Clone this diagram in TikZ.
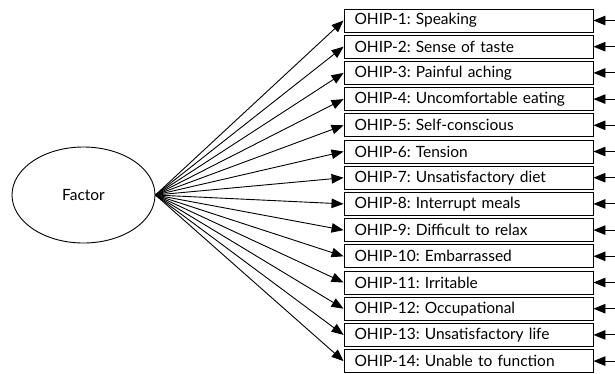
\documentclass[tikz,border=0pt]{standalone}
\usepackage{fontspec}
\setmainfont{Lato}
\frenchspacing
\usetikzlibrary{shapes.geometric, arrows.meta}

\tikzset{
  item/.style={draw, line width=0.9pt, minimum width=249pt, minimum height=23pt,
    inner sep=0pt, text width=228pt, align=left, font=\fontsize{15.5}{17}\selectfont},
  latent/.style={draw, ellipse, line width=0.9pt, minimum width=143pt,
    minimum height=96pt, inner sep=0pt, font=\fontsize{15.5}{17}\selectfont},
  load/.style={-{Triangle[length=12pt, width=9.5pt]}, line width=0.9pt},
}

\begin{document}
\begin{tikzpicture}[x=1pt, y=1pt]
  \useasboundingbox (0,0) rectangle (615,-373);

  % Fator latente
  \node[latent] (factor) at (83.5,-195) {Factor};

  % Itens OHIP e setas
  \foreach \i/\txt in {1/Speaking, 2/Sense of taste, 3/Painful aching,
      4/Uncomfortable eating, 5/Self-conscious, 6/Tension,
      7/Unsatisfactory diet, 8/Interrupt meals, 9/Difficult to relax,
      10/Embarrassed, 11/Irritable, 12/Occupational,
      13/Unsatisfactory life, 14/Unable to function} {
    \node[item] (ohip\i) at (468.5,{-20.5-26.2*(\i-1)}) {OHIP-\i: \txt};
    \coordinate (err\i) at (615,{-20.5-26.2*(\i-1)});
    \draw[load] (factor.east) -- (ohip\i.west);
    \draw[load] (err\i) -- (ohip\i.east);
  }
\end{tikzpicture}
\end{document}
